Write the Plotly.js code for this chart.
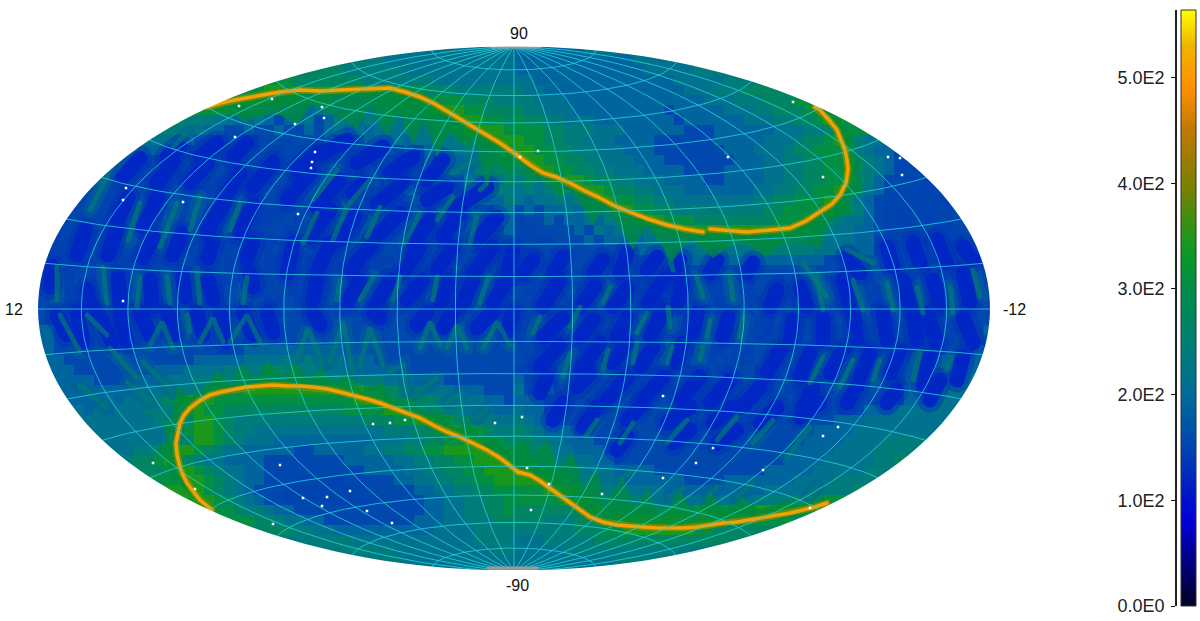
<!DOCTYPE html>
<html>
<head>
<meta charset="utf-8">
<script src="https://cdn.plot.ly/plotly-3.0.1.min.js"></script>
<style>
body { margin: 0; background: #fff; }
#plot { width: 1200px; height: 621px; }
.js-line { stroke-linecap: round; }
</style>
</head>
<body>
<div id="plot"></div>
<script>
// Counts per level digit used in the sky rows below
var levels = [146, 148, 150, 154, 190, 215, 240, 270, 305, 345];

// Sky map, 10px cells. "left|right" of the central meridian.
var skyTop = 50;
var skyRows = [
"555555555|444444455",
"6665555555555555|4444444444445555",
"77766666655555555555|44444444444445555566",
"887777777666666655555555|554444444444444455555666",
"889988888888888888777666666|655444444444444445556667777",
"88998888777665677888888877766|665554444444444444455566677788",
"8887776655456456567778899988777|7665554444444443444445556677788",
"7666554454344534654656566777899887|877665554444444434444445556677899877",
"66554433433433434545455565677899998|888776665554444443334444445556678",
"554433233223323334343444545565677899|98877665554444333333444445556778986554",
"54433223212322132321333234343445566678|9988776655544433333334445556778889654433",
"5443221221123211321232123233243435456778|89988776655544433333334445566778897654333",
"54322112112321123112311322322423435446577|779988776655544443333444455667788976543322",
"432211210132113211321132123224233244354657|676789987766555444433444455667788976433222",
"3321121013210231123112311321332242253354566|5656768998776655544444445566778898654322112",
"32211201320132013102310230132132124124335446|5455656689887766555555556677888987543221122",
"321121022013201310131023013202311321331343355|343445465789887766666666677888898764321121223",
"221120120131013102300230132023113202312322344|233434454657899888777777778889876554321121123",
"211201201310130023002301310231132013202312334|2233334354565677899999999999887655443211121123",
"1120120131023002301220131023103201310231132233|12223334344445556667777777777665554433222222233",
"1201201310230023012201310230032013102310321233|1122233333334444445555556666665554443333333333",
"10210131023012201310230032013002310320131032123|333333333333333344444444444444433333333333333333",
"21021021022013102201310230131032013002301310222|333333333333333333333333333333333333333333333333",
"21131021031022013002301310320130022013102311312|200113101231023103202310320321320320321321321233",
"32022022022022022013102201300320130122013102202|310023001320132013102301320231131032032032132123",
"32131131031032031032031031022022022022022022022|320131013102301310230131130032032031031022131233",
"33122022031031032022032031031031031022031021021|210220131023013003201300320230131031031031132333",
"33333333333333333333333333333333333333333333333|201300220130131031023013003202203103103203212333",
"43333333333333333333333333333333333333333333333|102301310230130032013003202202301310320320312334",
"43333333333333333333333333333333333333333333333|13201310230031023013103201300320230230320321333",
"43333333333333333333444444444433333333333333333|32013102301300310230131032023013103103203213334",
"4333333333333344444555566655544433333333333333|31023013103102301301320230131032032132133344",
"4433333333444555566667766665555444333333333333|10310230130031023013102301310310320321333444",
"444333344455566667777777777776665554443333333|42131032023013003102301310230131032033134445",
"444444455555667778999999999999887766555444333|53242032032013103102301310310321321333445",
"444454556678999888888888888889998777766655443|4443333333333333333333333333333333333334455555",
"54545556667898877777777777788889987776655544|5443333333333333333333333333333333344455555",
"555555666799876666666666666777889988776655|6544333333333333333333333333333344455555",
"55555566899876655555555555556667789988766|76544433333333333333333333333344445555",
"555566799876555444444444455566778899887|776554443333333333333333333334444555566",
"5566789987655444443344444556677889999888|8776554443333333333333333333444455556666",
"6677898765544443333333344444556677889999|887766554433333333333333333444455555667",
"788987655443333333333444455667788999|9988766555444433333333333444445555566667",
"8998765443332222233333445566778899|999987665554444443333444444455556666677",
"998765433322222222333334455667788|88899987666555544444444445555566667777",
"9876543322222222233333445566778|888889987766655555555555666677788",
"87665443333333333333445566778|77777778987787788788888899998",
"877655443333333334445566677|77766677789999999999999888887",
"776655444444444455556666|6666667778899999998877777",
"66665555555555556666|55566666777777777777",
"6666555555555566|5555566666666666",
"66655555555555|55555555556666",
"555555|555555"
];

// Deep blue diagonal bands in its own pixel coordinates, null between bands
var darkX = [77,85,null,108,117,null,115,128,null,143,158,null,173,182,null,207,225,null,240,253,null,143,153,null,208,213,null,247,253,null,50,53,null,90,87,null,120,118,null,152,150,null,185,183,null,213,208,null,253,250,null,157,173,null,190,207,null,227,240,null,253,273,null,123,140,null,200,217,null,233,247,null,167,180,null,
287,310,null,317,340,null,353,363,null,377,403,null,427,447,null,453,487,null,310,330,null,340,355,null,373,400,null,413,430,null,443,460,null,477,497,null,287,293,null,317,330,null,350,370,null,403,420,null,437,453,null,473,493,null,507,513,null,313,317,null,347,360,null,377,390,null,407,423,null,440,450,null,463,473,null,493,507,null,323,347,null,357,383,null,390,413,null,427,443,null,297,317,null,
543,560,null,580,595,null,613,628,null,648,663,null,677,683,null,693,697,null,723,728,null,543,563,null,580,593,null,617,627,null,650,663,null,540,560,null,580,600,null,613,627,null,640,653,null,677,683,null,540,547,null,577,590,null,607,627,null,643,663,null,680,700,null,710,730,null,743,760,null,523,533,null,553,563,null,593,603,null,620,627,null,647,657,null,673,680,null,710,717,null,747,753,null,
770,777,null,807,800,null,850,843,null,910,903,null,940,933,null,970,963,null,790,793,null,823,823,null,857,853,null,887,883,null,917,913,null,937,927,null,973,963,null,767,780,null,800,810,null,830,843,null,860,870,null,890,900,null,923,930,null,957,963,null,803,813,null,847,857,null,887,897,null,930,940,null,860,847,null,893,887,null,920,913,null,947,937,null,973,963,null,
67,57,null,83,77,null,112,97,null,127,120,null,150,140,null,173,167,null,203,197,null,227,220,null,253,243,null,273,267,null,320,313,null,380,373,null,477,493,null,443,453,null,417,427,null,507,513,null,
553,563,null,583,597,null,627,640,null,667,690,null,713,733,null,760,777,null,800,820,null,617,627,null,673,690,null,717,737];
var darkY = [255,230,null,255,230,null,223,198,null,227,197,null,255,233,null,230,203,null,233,205,null,258,237,null,258,240,null,258,242,null,287,267,null,307,290,null,303,277,null,307,280,null,297,277,null,300,280,null,287,273,null,183,162,null,183,163,null,193,173,null,187,163,null,177,158,null,157,143,null,157,143,null,157,147,null,
200,173,null,207,180,null,193,183,null,205,182,null,200,187,null,210,187,null,237,210,null,240,217,null,240,213,null,243,220,null,237,213,null,240,217,null,273,243,null,273,243,null,270,247,null,273,247,null,270,247,null,273,247,null,277,250,null,300,280,null,303,280,null,303,280,null,300,280,null,303,280,null,303,280,null,303,280,null,153,140,null,163,147,null,173,157,null,180,160,null,170,153,null,
307,280,null,307,287,null,307,287,null,303,280,null,303,283,null,333,313,null,337,317,null,337,318,null,337,320,null,337,317,null,337,310,null,367,345,null,370,343,null,363,343,null,367,347,null,363,343,null,393,377,null,387,373,null,400,377,null,400,377,null,400,377,null,403,380,null,407,387,null,273,260,null,273,257,null,273,260,null,273,253,null,270,257,null,273,260,null,273,260,null,273,263,null,
307,290,null,307,287,null,307,280,null,305,280,null,305,280,null,303,273,null,340,320,null,340,317,null,340,313,null,340,313,null,340,313,null,343,313,null,343,317,null,373,350,null,377,353,null,373,350,null,377,353,null,373,350,null,387,357,null,380,357,null,407,387,null,403,387,null,403,390,null,400,380,null,273,257,null,267,247,null,263,243,null,263,240,null,260,247,null,
335,315,null,342,312,null,342,312,null,342,315,null,335,312,null,335,312,null,335,312,null,342,315,null,335,312,null,332,312,null,325,312,null,318,312,null,328,312,null,328,312,null,325,312,null,332,312,null,
420,403,null,427,407,null,420,407,null,423,407,null,423,407,null,423,407,null,417,403,null,450,437,null,443,430,null,443,430];

// Teal streaks between the bands, and the tents that stand on the lower curve
var tealX = [90,107,null,128,140,null,160,177,null,190,200,null,230,240,null,57,57,null,107,103,null,137,140,null,170,167,null,200,197,null,243,247,null,173,187,null,
303,317,null,333,347,null,367,380,null,405,420,null,437,453,null,470,477,null,313,337,null,350,370,null,453,480,null,480,487,null,337,340,null,360,373,null,393,400,null,433,437,null,480,487,null,
533,540,null,570,580,null,603,610,null,637,647,null,670,668,null,707,710,null,740,743,null,563,570,null,603,608,null,633,637,null,667,672,null,700,703,null,697,703,null,730,733,null,667,673,null,
817,823,null,863,853,null,893,887,null,923,917,null,953,950,null,980,973,null,803,827,null,847,873,null,810,823,null,840,853,null,873,880,null,913,920,null,947,952,null,
597,585,null,620,633,null,667,687,null,717,737,null,753,773,null,787,810,null,620,633,null,670,683,null,707,717,null,737,753,null,807,817,null,
150,162,173,null,200,213,223,null,230,247,260,null,60,80,null,87,107,null,110,137,null,143,173,null,80,107,null,127,150,null,187,190,null,
297,308,323,null,330,343,353,null,360,370,383,null,420,430,440,null,390,403,407,null,447,457,467,null,483,497,510,null,437,413,null,463,447,null,487,477];
var tealY = [210,177,null,240,203,null,247,203,null,230,197,null,230,203,null,300,267,null,303,267,null,307,277,null,303,277,null,303,273,null,303,277,null,147,133,null,
243,213,null,240,207,null,237,207,null,243,213,null,220,197,null,243,217,null,200,170,null,203,180,null,173,157,null,190,183,null,300,280,null,300,277,null,300,277,null,300,277,null,303,280,null,
333,317,null,327,307,null,303,287,null,333,313,null,327,307,null,337,320,null,337,317,null,377,353,null,370,350,null,363,343,null,363,347,null,360,347,null,277,297,null,277,300,null,250,270,null,
277,310,null,310,280,null,310,283,null,313,287,null,313,287,null,297,270,null,263,297,null,250,263,null,383,357,null,387,360,null,380,360,null,380,353,null,370,357,null,
420,437,null,443,423,null,443,420,null,440,417,null,443,420,null,457,427,null,480,470,null,497,488,null,497,487,null,497,483,null,497,487,null,
345,322,348,null,342,318,342,null,342,315,342,null,315,352,null,315,335,null,348,378,null,362,392,null,385,408,null,382,402,null,315,332,null,
358,328,365,null,362,322,372,null,365,328,365,null,348,322,345,null,372,365,392,null,348,325,348,null,348,322,345,null,378,395,null,392,402,null,408,418];

// Bright curves
var causticAx = [207, 225, 240, 262, 280, 300, 320, 340, 365, 390, 405, 420, 435, 450, 465, 480, 500, 517];
var causticAy = [107, 102, 99, 95, 92, 90, 91, 90, 89, 88, 92, 97, 104, 113, 121, 130, 143, 155];
var causticBx = [517, 530, 543, 556, 570, 585, 600, 615, 630, 648, 667, 685, 703, 710, 730, 747, 770, 790, 806, 820, 832, 840, 846, 848, 847, 845, 841, 837, 829, 820, 815];
var causticBy = [155, 165, 173, 177, 183, 191, 198, 206, 212, 219, 225, 229, 232, 229, 231, 232, 230, 228, 221, 212, 204, 195, 183, 170, 160, 150, 140, 130, 120, 110, 107];
var causticCx = [212, 206, 200, 193, 187, 183, 180, 177, 176, 178, 180, 184, 190, 199, 210, 221, 233, 246, 260, 273, 287, 300, 313, 327, 340, 353, 367, 380, 393, 407, 420, 433, 447, 460, 473, 487, 500, 509, 518];
var causticCy = [510, 505, 500, 491, 483, 475, 467, 455, 443, 433, 423, 415, 408, 401, 395, 392, 390, 387, 386, 385, 386, 386, 387, 389, 392, 395, 399, 403, 408, 413, 418, 425, 432, 437, 443, 450, 458, 465, 472];
var causticDx = [518, 530, 540, 550, 560, 570, 580, 590, 603, 617, 630, 643, 657, 670, 684, 697, 710, 723, 737, 750, 763, 777, 790, 803, 815, 827];
var causticDy = [472, 475, 481, 488, 495, 503, 510, 517, 522, 525, 526, 527, 528, 528, 528, 527, 525, 523, 522, 520, 518, 515, 513, 510, 507, 503];
var causticGapAfter = 12; // the curve breaks for a few pixels near the bottom of the upper lens

// Green saw teeth on the outer side of each curve
var teethAx = [207, 230, 245, 255, 275, 297, 312, 335, 357, 370, 387, 400, 413, 425, 437, 450, 463, 475, 487, 495, 510, 517];
var teethAy = [110, 112, 122, 118, 112, 125, 105, 115, 128, 108, 135, 112, 145, 118, 158, 130, 145, 140, 188, 160, 175, 158];
var teethBx = [517, 530, 540, 560, 572, 593, 607, 633, 647, 672, 690, 713, 740, 767, 790, 820, 828, 850, 846, 865, 856, 860, 853, 856, 843, 838, 822];
var teethBy = [158, 180, 178, 195, 190, 225, 207, 250, 223, 262, 238, 258, 240, 257, 236, 250, 222, 212, 200, 192, 176, 165, 152, 142, 125, 110, 108];
var teethCx = [205, 190, 175, 168, 158, 168, 163, 172, 177, 190, 205, 218, 230, 242, 255, 268, 282, 295, 308, 322, 335, 348, 362, 382, 392, 410, 425, 443, 455, 468, 480, 493, 505, 518];
var teethCy = [510, 495, 478, 465, 447, 440, 423, 418, 385, 398, 388, 370, 385, 363, 382, 360, 380, 362, 380, 367, 385, 373, 392, 383, 402, 397, 413, 413, 428, 423, 438, 435, 450, 445];
var teethDx = [518, 523, 535, 547, 558, 573, 583, 597, 605, 623, 635, 647, 660, 680, 695, 710, 725, 743, 760, 787, 800, 825, 830];
var teethDy = [445, 440, 460, 437, 470, 452, 490, 467, 505, 477, 512, 487, 518, 490, 516, 492, 512, 497, 510, 500, 503, 498, 505];

// Empty pixels scattered over the map
var speckX = [322, 324, 295, 312, 311, 315, 183, 123, 126, 298, 272, 239, 123, 235, 538, 793, 728, 823, 888, 900, 902, 520, 373, 390, 405, 280, 303, 327, 350, 367, 495, 195, 153, 273, 322, 392, 522, 531, 527, 549, 602, 663, 823, 838, 713, 696, 763, 663, 810];
var speckY = [107, 118, 124, 162, 168, 152, 202, 200, 188, 214, 99, 106, 301, 137, 151, 102, 157, 177, 157, 158, 175, 157, 424, 423, 420, 465, 498, 497, 491, 511, 423, 489, 463, 524, 506, 523, 417, 510, 468, 484, 494, 396, 436, 427, 448, 463, 470, 478, 508];

// Grey caps at the poles
var poleTopX = [492, 540];
var poleTopY = [47, 47];
var poleBottomX = [488, 537];
var poleBottomY = [568, 568];

// Colour key
var scaleValues = [0, 40, 80, 100, 150, 200, 250, 300, 340, 400, 450, 490, 530, 564];
var scaleColors = ["#000028", "#00007c", "#0000d8", "#0010cc", "#0044b0", "#006c98", "#007f74", "#008c48", "#109a20", "#808000", "#c07800", "#ff9000", "#f0b400", "#ffff00"];
var keyTicks = [0, 100, 200, 300, 400, 500];
var keyLabels = ["0.0E0", "1.0E2", "2.0E2", "3.0E2", "4.0E2", "5.0E2"];

// Map frame in picture pixels
var cx = 514, cy = 309, rx = 476, ry = 263;
var maskCy = 308.5, maskRy = 262;

function hammer(lon, lat) {
    var a = lon * Math.PI / 360;
    var p = lat * Math.PI / 180;
    var d = Math.sqrt(1 + Math.cos(p) * Math.cos(a));
    return [cx + rx * Math.cos(p) * Math.sin(a) / d, cy - ry * Math.sin(p) / d];
}

function graticule() {
    var xs = [], ys = [];
    for (var lon = -160; lon <= 160; lon += 20) {
        for (var lat = -90; lat <= 90; lat += 2) {
            var q = hammer(lon, lat);
            xs.push(q[0]);
            ys.push(q[1]);
        }
        xs.push(null);
        ys.push(null);
    }
    for (var lat = -80; lat <= 80; lat += 10) {
        for (var lon = -180; lon <= 180; lon += 4) {
            var q = hammer(lon, lat);
            xs.push(q[0]);
            ys.push(q[1]);
        }
        xs.push(null);
        ys.push(null);
    }
    return [xs, ys];
}

function skyGrid() {
    var half = 48;
    var z = [], xs = [], ys = [];
    for (var i = 0; i < half * 2; i++) {
        xs.push(cx + (i - half + 0.5) * 10);
    }
    for (var r = 0; r < skyRows.length; r++) {
        var parts = skyRows[r].split("|");
        var row = parts[0].padStart(half, parts[0][0]) + parts[1].padEnd(half, parts[1][parts[1].length - 1]);
        var vals = [];
        for (var i = 0; i < half * 2; i++) {
            vals.push(levels[parseInt(row[i])]);
        }
        z.push(vals);
        ys.push(skyTop + r * 10);
    }
    return {x: xs, y: ys, z: z};
}

function colorscale() {
    var out = [];
    for (var i = 0; i < scaleValues.length; i++) {
        out.push([scaleValues[i] / 564, scaleColors[i]]);
    }
    return out;
}

function maskPath() {
    var path = "M30,40 L1000,40 L1000,580 L30,580 Z M";
    for (var i = 0; i <= 180; i++) {
        var t = i * Math.PI / 90;
        path += (i ? " L" : "") + (cx + rx * Math.cos(t)).toFixed(1) + "," + (maskCy + maskRy * Math.sin(t)).toFixed(1);
    }
    return path + " Z";
}

function teethTrace(tx, ty, kx, ky) {
    return {
        x: tx.concat(kx.slice().reverse()),
        y: ty.concat(ky.slice().reverse()),
        mode: "lines",
        fill: "toself",
        fillcolor: "rgba(0,138,58,0.72)",
        line: {width: 0},
        hoverinfo: "skip"
    };
}

function curveTrace(kx, ky, width, color) {
    return {x: kx, y: ky, mode: "lines", line: {width: width, color: color}, hoverinfo: "skip"};
}

function draw() {
    var sky = skyGrid();
    var scale = colorscale();
    var grid = graticule();
    var data = [{
        type: "heatmap", x: sky.x, y: sky.y, z: sky.z,
        zmin: 0, zmax: 564, colorscale: scale, showscale: false, hoverinfo: "skip"
    }];

    // Bands first, the lens fronts go on top of them
    data.push(curveTrace(tealX, tealY, 15, "rgba(0,98,150,0.5)"));
    data.push(curveTrace(darkX, darkY, 25, "rgba(0,46,186,0.4)"));
    data.push(curveTrace(darkX, darkY, 15, "#0026c4"));
    data.push(curveTrace(tealX, tealY, 5, "rgba(0,122,118,0.7)"));

    data.push(teethTrace(teethAx, teethAy, causticAx, causticAy));
    data.push(teethTrace(teethBx, teethBy, causticBx, causticBy));
    data.push(teethTrace(teethCx, teethCy, causticCx, causticCy));
    data.push(teethTrace(teethDx, teethDy, causticDx, causticDy));

    var splitBx = causticBx.slice(0, causticGapAfter + 1).concat([null], causticBx.slice(causticGapAfter + 1));
    var splitBy = causticBy.slice(0, causticGapAfter + 1).concat([null], causticBy.slice(causticGapAfter + 1));
    var curves = [[causticAx, causticAy], [splitBx, splitBy], [causticCx, causticCy], [causticDx, causticDy]];
    for (var i = 0; i < 4; i++) {
        data.push(curveTrace(curves[i][0], curves[i][1], 7, "rgba(135,140,0,0.75)"));
    }
    for (var i = 0; i < 4; i++) {
        data.push(curveTrace(curves[i][0], curves[i][1], 3.5, "#f0a208"));
    }

    data.push({
        x: grid[0], y: grid[1], mode: "lines",
        line: {width: 1, color: "rgba(40,205,215,0.85)"}, hoverinfo: "skip"
    });
    data.push({x: poleTopX, y: poleTopY, mode: "lines", line: {width: 3, color: "#9a9a9a"}, hoverinfo: "skip"});
    data.push({x: poleBottomX, y: poleBottomY, mode: "lines", line: {width: 3, color: "#9a9a9a"}, hoverinfo: "skip"});
    data.push({
        x: speckX, y: speckY, mode: "markers",
        marker: {symbol: "square", size: 2.5, color: "#ffffff"}, hoverinfo: "skip"
    });

    // Colour key as its own little heatmap so that the axis sits on its left
    var keyY = [], keyZ = [];
    for (var v = 0; v <= 564; v += 2) {
        keyY.push(v);
        keyZ.push([v]);
    }
    data.push({
        type: "heatmap", x: [0], y: keyY, z: keyZ, xaxis: "x2", yaxis: "y2",
        zmin: 0, zmax: 564, colorscale: scale, showscale: false, hoverinfo: "skip"
    });

    var labelFont = {family: "Liberation Sans", size: 16, color: "#111"};
    var noteBase = {xref: "paper", yref: "paper", showarrow: false, font: labelFont, xanchor: "center", yanchor: "middle"};
    function note(text, px, py) {
        return Object.assign({}, noteBase, {text: text, x: px / 1200, y: (621 - py) / 621});
    }

    var layout = {
        width: 1200, height: 621,
        margin: {l: 0, r: 0, t: 0, b: 0},
        paper_bgcolor: "#fff", plot_bgcolor: "#fff",
        showlegend: false,
        xaxis: {domain: [38 / 1200, 990 / 1200], range: [38, 990], visible: false, fixedrange: true},
        yaxis: {domain: [51 / 621, 576 / 621], range: [570, 45], visible: false, fixedrange: true},
        xaxis2: {domain: [1181 / 1200, 1196 / 1200], range: [-0.5, 0.5], visible: false, anchor: "y2", fixedrange: true},
        yaxis2: {
            domain: [15 / 621, 611 / 621], range: [0, 564], anchor: "free", position: 1176 / 1200,
            tickmode: "array", tickvals: keyTicks, ticktext: keyLabels,
            ticks: "outside", ticklen: 4, tickcolor: "#111", showgrid: false, zeroline: false,
            showline: true, linecolor: "#222", linewidth: 1.5, ticklabelstandoff: 3,
            tickfont: {family: "Liberation Sans", size: 18, color: "#222"}, fixedrange: true
        },
        shapes: [
            {type: "path", xref: "x", yref: "y", path: maskPath(), fillcolor: "#fff", line: {width: 0}, layer: "above"},
            {type: "rect", xref: "paper", yref: "paper", x0: 1181 / 1200, x1: 1196 / 1200, y0: 15 / 621, y1: 611 / 621, line: {width: 1, color: "#333"}, layer: "above"}
        ],
        annotations: [
            note("90", 519, 33),
            note("-90", 517, 585),
            note("12", 14, 309),
            note("-12", 1014, 309)
        ]
    };

    Plotly.newPlot("plot", data, layout, {displayModeBar: false});
}

draw();
</script>
</body>
</html>
